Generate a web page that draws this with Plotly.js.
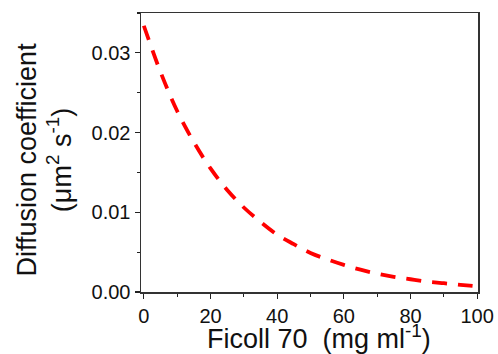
<!DOCTYPE html>
<html>
<head>
<meta charset="utf-8">
<script src="https://cdn.plot.ly/plotly-3.0.1.min.js"></script>
<style>html,body{margin:0;padding:0;background:#fff;}#chart{width:498px;height:354px;}</style>
</head>
<body>
<div id="chart"></div>
<script>
// Ficoll 70 concentration (mg/ml)
const ficoll = [0, 5, 10, 15, 20, 25, 30, 35, 40, 45, 50, 55, 60, 65, 70, 75, 80, 85, 90, 95, 100];
// Diffusion coefficient (um^2 s^-1)
const diffusion = [0.0334, 0.0276, 0.0227, 0.0188, 0.0155, 0.0128, 0.0106, 0.0088, 0.0072, 0.0060, 0.0049,
                   0.0041, 0.0034, 0.0028, 0.0023, 0.0019, 0.0016, 0.0013, 0.0011, 0.0009, 0.0007];
const xTicks = [0, 20, 40, 60, 80, 100];
const yTicks = [0, 0.01, 0.02, 0.03];
const yTickLabels = ["0.00", "0.01", "0.02", "0.03"];
const xTitle = "Ficoll 70\u00a0\u00a0(mg ml<sup>-1</sup>)";
const yTitle = "Diffusion coefficient<br>(\u03bcm<sup>2</sup> s<sup>-1</sup>)";

const font = "Liberation Sans, Arial, sans-serif";

const trace = {
  x: ficoll, y: diffusion, type: "scatter", mode: "lines",
  line: {color: "#ff0000", width: 3.8, dash: "15px,11px", shape: "spline"},
  hoverinfo: "skip"
};

const layout = {
  width: 498, height: 354,
  margin: {l: 141, r: 20, t: 13, b: 62},
  paper_bgcolor: "#fff", plot_bgcolor: "#fff",
  showlegend: false,
  font: {family: font, color: "#111"},
  xaxis: {
    range: [-0.85, 100.25],
    tickmode: "array", tickvals: xTicks, ticktext: xTicks.map(String),
    ticks: "outside", ticklen: 5, tickwidth: 1.2, tickcolor: "#222",
    minor: {dtick: 10, tick0: 0, ticks: "outside", ticklen: 3, tickwidth: 1.2, tickcolor: "#222", showgrid: false},
    showline: true, linecolor: "#333", linewidth: 1.5, mirror: true,
    showgrid: false, zeroline: false,
    tickfont: {family: font, size: 20, color: "#111"}
  },
  yaxis: {
    range: [0, 0.035],
    tickmode: "array", tickvals: yTicks, ticktext: yTickLabels,
    ticks: "outside", ticklen: 5, tickwidth: 1.2, tickcolor: "#222",
    minor: {dtick: 0.005, tick0: 0, ticks: "outside", ticklen: 3, tickwidth: 1.2, tickcolor: "#222", showgrid: false},
    showline: true, linecolor: "#333", linewidth: 1.5, mirror: true,
    showgrid: false, zeroline: false,
    tickfont: {family: font, size: 20, color: "#111"}
  },
  annotations: [{
    text: yTitle, textangle: -90, showarrow: false,
    xref: "paper", yref: "paper", x: 0, y: 0.5,
    xanchor: "center", yanchor: "middle",
    xshift: -97, yshift: -7,
    font: {family: font, size: 27, color: "#111"}
  }, {
    text: xTitle, showarrow: false,
    xref: "paper", yref: "paper", x: 0.5, y: 0,
    xanchor: "center", yanchor: "middle",
    xshift: 9, yshift: -45,
    font: {family: font, size: 27, color: "#111"}
  }]
};

Plotly.newPlot("chart", [trace], layout, {staticPlot: true, displayModeBar: false});
</script>
</body>
</html>
